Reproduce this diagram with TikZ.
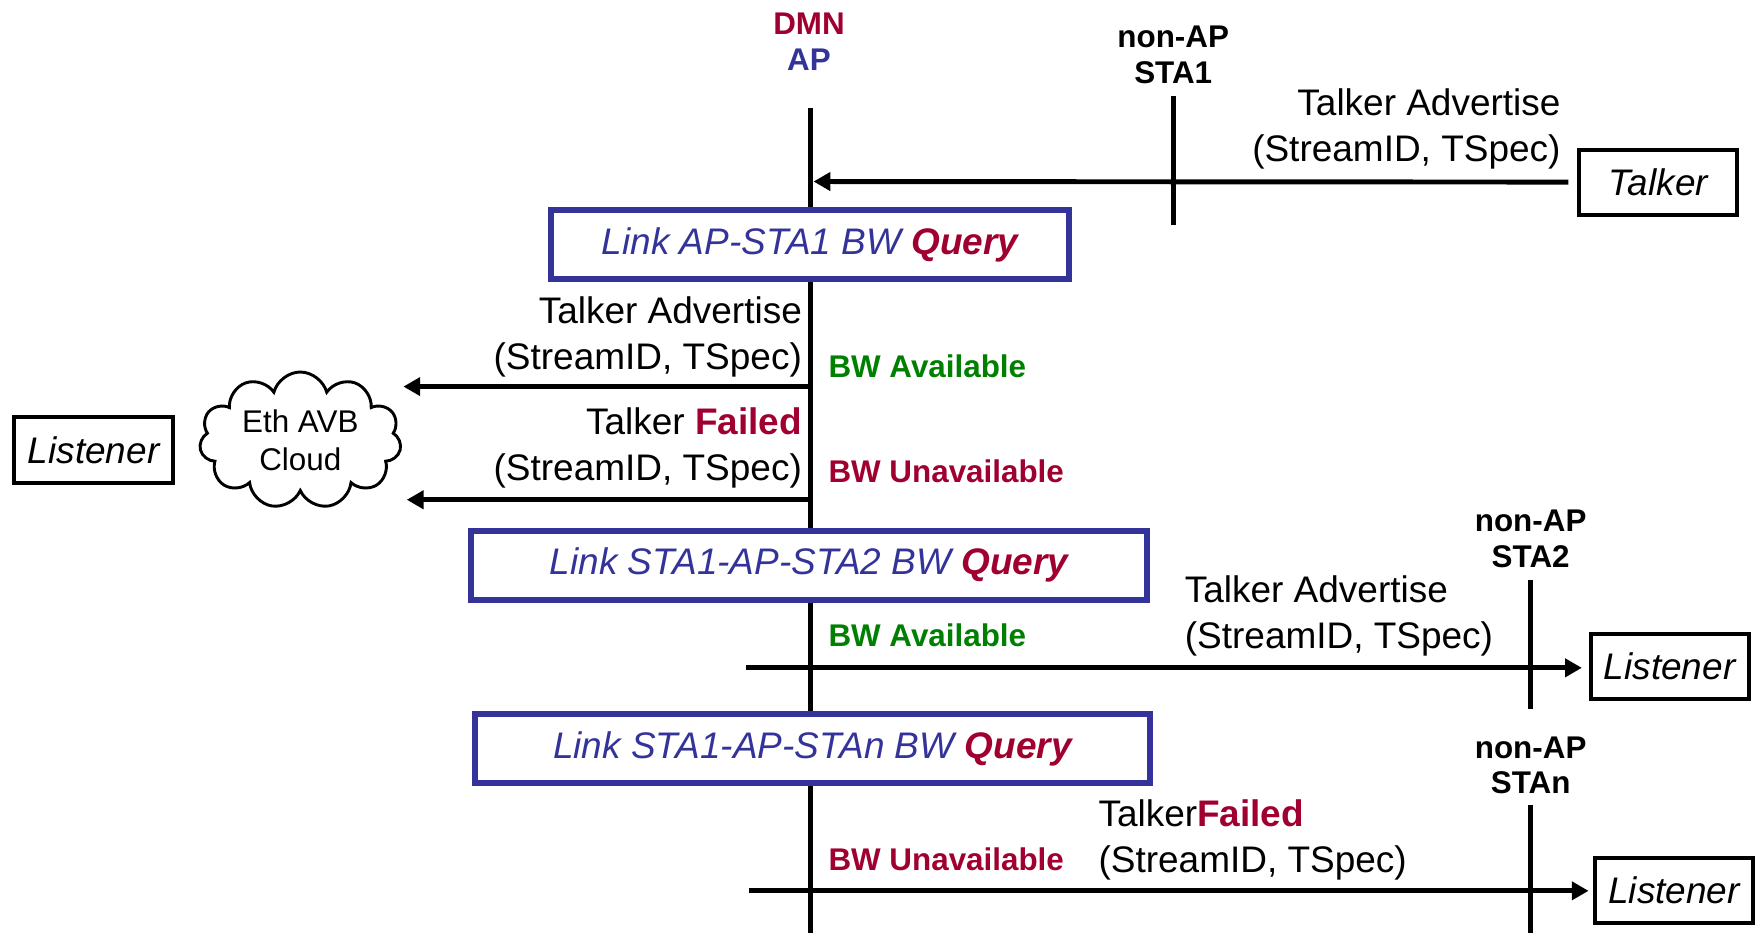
\documentclass[tikz,border=0pt]{standalone}
\usepackage{fontspec}
\setmainfont{Liberation Sans}
\usetikzlibrary{arrows.meta,shapes.symbols}
\definecolor{linkblue}{RGB}{51,51,153}
\definecolor{failred}{RGB}{160,0,48}
\definecolor{okgreen}{RGB}{0,128,0}
\begin{document}
\begin{tikzpicture}[x=0.5pt,y=-0.5pt,
  life/.style={line width=2.2pt},
  msgarrow/.style={line width=2.2pt,-{Triangle[length=7.5pt,width=8pt]}},
  msgtext/.style={inner sep=0pt,font=\fontsize{16.5}{20.5}\selectfont},
  headlabel/.style={inner sep=0pt,align=center,font=\bfseries\fontsize{14}{16}\selectfont},
  status/.style={inner sep=0pt,anchor=west,font=\bfseries\fontsize{14}{16}\selectfont},
  querybox/.style={draw=linkblue,fill=white,line width=2.7pt,minimum width=301.3pt,
    minimum height=30.8pt,inner sep=0pt,text=linkblue,font=\itshape\fontsize{16.5}{20}\selectfont},
  endpoint/.style={draw,fill=white,line width=1.8pt,minimum width=70.5pt,
    minimum height=29pt,inner sep=0pt,font=\itshape\fontsize{16.5}{20}\selectfont}]

\path[use as bounding box] (0,0) rectangle (1568,833);

% lifeline heads
\node[headlabel] (aphead) at (722,37) {\textcolor{failred}{DMN}\\\textcolor{linkblue}{AP}};
\node[headlabel] (sta1head) at (1047,49) {non-AP\\STA1};
\node[headlabel] (sta2head) at (1366,481) {non-AP\\STA2};
\node[headlabel] (stanhead) at (1366,683) {non-AP\\STAn};

% lifelines
\coordinate (aptop) at (723,96);
\coordinate (apbot) at (723,833);
\coordinate (sta1top) at (1047,86);
\coordinate (sta1bot) at (1047,201);
\coordinate (sta2top) at (1366,518);
\coordinate (sta2bot) at (1366,633);
\coordinate (stantop) at (1366,718);
\coordinate (stanbot) at (1366,833);
\draw[life] (aptop) -- (apbot);
\draw[life] (sta1top) -- (sta1bot);
\draw[life] (sta2top) -- (sta2bot);
\draw[life] (stantop) -- (stanbot);

% bandwidth query boxes on the AP lifeline
\node[querybox,minimum width=231.3pt] (q1) at (723,218.5)
  {Link AP-STA1 BW \textcolor{failred}{\bfseries Query}};
\node[querybox] (q2) at (722,504.5)
  {Link STA1-AP-STA2 BW \textcolor{failred}{\bfseries Query}};
\node[querybox] (q3) at (725,668)
  {Link STA1-AP-STAn BW \textcolor{failred}{\bfseries Query}};

% end stations
\node[endpoint] (talker) at (1480,162.5) {Talker};
\node[endpoint,minimum width=70.7pt,minimum height=29.7pt] (lst1) at (83.5,401.5) {Listener};
\node[endpoint] (lst2) at (1490,595) {Listener};
\node[endpoint] (lst3) at (1494,794.5) {Listener};

% Ethernet AVB cloud
\node[cloud,cloud puffs=11,cloud ignores aspect,draw,line width=1.3pt,
  minimum width=90pt,minimum height=61pt,inner sep=0pt,align=center,
  font=\fontsize{14}{17}\selectfont] (cloud) at (268,393) {Eth AVB\\Cloud};

% Talker Advertise from STA1 to the AP
\coordinate (m1end) at (726,162);
\draw[msgarrow] ([xshift=-4pt]talker.west) -- (m1end);
\node[msgtext,anchor=east,align=right] (m1txt) at (1393,115)
  {Talker Advertise\\(StreamID, TSpec)};

% AP towards the Ethernet AVB cloud
\coordinate (m2start) at (723,345);
\coordinate (m2end) at (360,345);
\draw[msgarrow] (m2start) -- (m2end);
\node[msgtext,anchor=east,align=right] (m2txt) at (716,301)
  {Talker Advertise\\(StreamID, TSpec)};
\node[status,text=okgreen] (ok1) at (739,327) {BW Available};

\coordinate (m3start) at (723,446);
\coordinate (m3end) at (363,446);
\draw[msgarrow] (m3start) -- (m3end);
\node[msgtext,anchor=east,align=right] (m3txt) at (716,400)
  {Talker \textcolor{failred}{\bfseries Failed}\\(StreamID, TSpec)};
\node[status,text=failred] (nok1) at (739,421) {BW Unavailable};

% AP towards STA2
\coordinate (m4start) at (666,596);
\draw[msgarrow] (m4start) -- ([xshift=-3pt]lst2.west |- m4start);
\node[msgtext,anchor=west,align=left] (m4txt) at (1057,550)
  {Talker Advertise\\(StreamID, TSpec)};
\node[status,text=okgreen] (ok2) at (739,567) {BW Available};

% AP towards STAn
\coordinate (m5start) at (668,795);
\draw[msgarrow] (m5start) -- ([xshift=-2pt]lst3.west |- m5start);
\node[msgtext,anchor=west,align=left] (m5txt) at (980,749.5)
  {Talker\textcolor{failred}{\bfseries Failed}\\(StreamID, TSpec)};
\node[status,text=failred] (nok2) at (739,767) {BW Unavailable};

\end{tikzpicture}
\end{document}
